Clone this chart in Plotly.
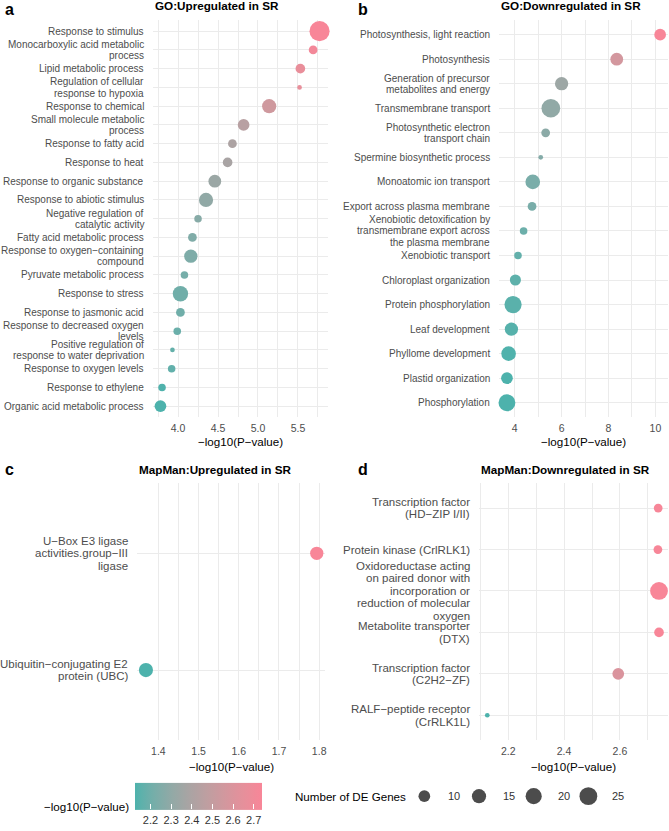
import numpy as np
import plotly.graph_objects as go

W, H = 669, 831
FONT = "Liberation Sans, Arial, sans-serif"

# ---------------- data ----------------
go_up_terms = [
    "Response to stimulus",
    "Monocarboxylic acid metabolic<br>process",
    "Lipid metabolic process",
    "Regulation of cellular<br>response to hypoxia",
    "Response to chemical",
    "Small molecule metabolic<br>process",
    "Response to fatty acid",
    "Response to heat",
    "Response to organic substance",
    "Response to abiotic stimulus",
    "Negative regulation of<br>catalytic activity",
    "Fatty acid metabolic process",
    "Response to oxygen\u2212containing<br>compound",
    "Pyruvate metabolic process",
    "Response to stress",
    "Response to jasmonic acid",
    "Response to decreased oxygen<br>levels",
    "Positive regulation of<br>response to water deprivation",
    "Response to oxygen levels",
    "Response to ethylene",
    "Organic acid metabolic process",
]
go_up_logp = [5.77, 5.69, 5.53, 5.52, 5.14, 4.82, 4.68, 4.62, 4.46, 4.35, 4.25,
              4.18, 4.16, 4.08, 4.03, 4.03, 3.99, 3.93, 3.92, 3.80, 3.78]
go_up_genes = [33, 6, 7, 4, 15, 10, 6, 7, 12, 15, 5, 6, 13, 5, 18, 6, 5, 4, 5, 5, 10]

go_down_terms = [
    "Photosynthesis, light reaction",
    "Photosynthesis",
    "Generation of precursor<br>metabolites and energy",
    "Transmembrane transport",
    "Photosynthetic electron<br>transport chain",
    "Spermine biosynthetic process",
    "Monoatomic ion transport",
    "Export across plasma membrane",
    "Xenobiotic detoxification by<br>transmembrane export across<br>the plasma membrane",
    "Xenobiotic transport",
    "Chloroplast organization",
    "Protein phosphorylation",
    "Leaf development",
    "Phyllome development",
    "Plastid organization",
    "Phosphorylation",
]
go_down_logp = [10.2, 8.35, 6.0, 5.54, 5.32, 5.11, 4.77, 4.74, 4.38, 4.14, 4.03,
                3.93, 3.86, 3.74, 3.67, 3.67]
go_down_genes = [10, 12, 13, 28, 6, 4, 16, 6, 5, 5, 9, 23, 13, 16, 10, 22]

mm_up_terms = [
    "U\u2212Box E3 ligase<br>activities.group\u2212III<br>ligase",
    "Ubiquitin\u2212conjugating E2<br>protein (UBC)",
]
mm_up_logp = [1.794, 1.369]
mm_up_genes = [13, 15]

mm_down_terms = [
    "Transcription factor<br>(HD\u2212ZIP I/II)",
    "Protein kinase (CrlRLK1)",
    "Oxidoreductase acting<br>on paired donor with<br>incorporation or<br>reduction of molecular<br>oxygen",
    "Metabolite transporter<br>(DTX)",
    "Transcription factor<br>(C2H2\u2212ZF)",
    "RALF\u2212peptide receptor<br>(CrRLK1L)",
]
mm_down_logp = [2.737, 2.736, 2.740, 2.740, 2.594, 2.125]
mm_down_genes = [6, 6, 25, 7, 10, 4]

size_breaks = [10, 15, 20, 25]
color_breaks = [2.2, 2.3, 2.4, 2.5, 2.6, 2.7]

# ---------------- styling helpers ----------------
def hex2rgb(h):
    h = h.lstrip("#")
    return [int(h[i:i + 2], 16) / 255 for i in (0, 2, 4)]

def srgb2lab(rgb):
    lin = [((c + 0.055) / 1.055) ** 2.4 if c > 0.04045 else c / 12.92 for c in rgb]
    r, g, b = lin
    X = (0.4124 * r + 0.3576 * g + 0.1805 * b) / 0.95047
    Y = (0.2126 * r + 0.7152 * g + 0.0722 * b)
    Z = (0.0193 * r + 0.1192 * g + 0.9505 * b) / 1.08883
    f = lambda t: t ** (1 / 3) if t > 0.008856 else 7.787 * t + 16 / 116
    fx, fy, fz = f(X), f(Y), f(Z)
    return [116 * fy - 16, 500 * (fx - fy), 200 * (fy - fz)]

def lab2srgb(lab):
    L, a, b = lab
    fy = (L + 16) / 116
    fx = fy + a / 500
    fz = fy - b / 200
    finv = lambda t: t ** 3 if t ** 3 > 0.008856 else (t - 16 / 116) / 7.787
    X, Y, Z = finv(fx) * 0.95047, finv(fy), finv(fz) * 1.08883
    r = 3.2406 * X - 1.5372 * Y - 0.4986 * Z
    g = -0.9689 * X + 1.8758 * Y + 0.0415 * Z
    bb = 0.0557 * X - 0.2040 * Y + 1.0570 * Z
    out = []
    for c in (r, g, bb):
        c = 1.055 * c ** (1 / 2.4) - 0.055 if c > 0.0031308 else 12.92 * c
        out.append(int(round(min(max(c, 0), 1) * 255)))
    return "rgb(%d,%d,%d)" % tuple(out)

LOW, HIGH = "#4DB2AC", "#F88698"
lab_lo, lab_hi = srgb2lab(hex2rgb(LOW)), srgb2lab(hex2rgb(HIGH))
colorscale = [[t, lab2srgb([lo + (hi - lo) * t for lo, hi in zip(lab_lo, lab_hi)])]
              for t in np.linspace(0, 1, 21)]

def dot_size(n):
    n = np.asarray(n, dtype=float)
    return 4.7 + 2.86 * np.sqrt(np.maximum(n - 4, 0))

def px(x):
    return x / W

def py(y):
    return 1 - y / H

GRID = "#EBEBEB"
TICKC = "#4D4D4D"

fig = go.Figure()
ann = []

def A(text, x, y, size, xanchor="left", bold=False, color="black", xref="paper",
      yref="paper", yshift=0):
    ann.append(dict(text="<b>%s</b>" % text if bold else text, x=x, y=y, xref=xref, yref=yref,
                    xanchor=xanchor, yanchor="middle", showarrow=False, yshift=yshift,
                    font=dict(size=size, color=color, family=FONT)))

panels = [
    # terms, logp, genes, xaxis, yaxis, xdom(px), ydom(px), dtick, tick0, minor, fmt, yfont, line h
    (go_up_terms, go_up_logp, go_up_genes, "x", "y", (152.5, 327.5), (20, 419.5), 0.5, 4.0, 0.25, ".1f", 10, 11.3),
    (go_down_terms, go_down_logp, go_down_genes, "x2", "y2", (499.3, 667.8), (20, 419.5), 2, 4, 1, "d", 10, 11.3),
    (mm_up_terms, mm_up_logp, mm_up_genes, "x3", "y3", (137.4, 325.3), (485.6, 743.7), 0.1, 1.4, 0.05, ".1f", 11.5, 12.5),
    (mm_down_terms, mm_down_logp, mm_down_genes, "x4", "y4", (478.7, 667.6), (485.6, 743.7), 0.2, 2.2, 0.1, ".1f", 11.5, 12.5),
]

layout_axes = {}
for i, (terms, logp, genes, xa, ya, xd, yd, dt, t0, mdt, fmt, yfs, lh) in enumerate(panels):
    lo, hi = min(logp), max(logp)
    pad = (hi - lo) * 0.05
    last = (i == 3)
    marker = dict(size=dot_size(genes), sizemode="diameter", color=logp,
                  colorscale=colorscale, cmin=lo, cmax=hi, opacity=1,
                  line=dict(width=0), showscale=last)
    if last:
        marker["colorbar"] = dict(
            orientation="h", x=px(135), xanchor="left", y=py(811), yanchor="middle",
            len=127, lenmode="pixels", thickness=27, thicknessmode="pixels",
            xpad=0, ypad=0, outlinewidth=0, tickvals=color_breaks,
            ticks="inside", ticklen=5, tickcolor="white", tickwidth=1,
            tickfont=dict(size=11, color="#333333", family=FONT))
    fig.add_trace(go.Scatter(x=logp, y=terms, mode="markers", marker=marker,
                             xaxis=xa, yaxis=ya, showlegend=False, cliponaxis=False))
    xk = "xaxis" if xa == "x" else "xaxis" + xa[1:]
    yk = "yaxis" if ya == "y" else "yaxis" + ya[1:]
    layout_axes[xk] = dict(
        domain=[px(xd[0]), px(xd[1])], anchor=ya, range=[lo - pad, hi + pad],
        dtick=dt, tick0=t0, tickformat=fmt, showgrid=True, gridcolor=GRID, gridwidth=1.1,
        minor=dict(dtick=mdt, tick0=t0, showgrid=True, gridcolor=GRID, gridwidth=0.6),
        zeroline=False, showline=False, ticks="",
        tickfont=dict(size=10.5, color=TICKC, family=FONT), ticklabelstandoff=3)
    layout_axes[yk] = dict(
        domain=[py(yd[1]), py(yd[0])], anchor=xa, type="category",
        categoryorder="array", categoryarray=terms,
        range=[len(terms) - 1 + 0.6, -0.6], showgrid=True, gridcolor=GRID, gridwidth=1.1,
        zeroline=False, showline=False, ticks="", showticklabels=False)
    # right-aligned category labels with compact line spacing
    for t in terms:
        lines = t.split("<br>")
        m = len(lines)
        for k, line in enumerate(lines):
            A(line, px(xd[0] - 7), t, yfs, xanchor="right", color=TICKC,
              yref=ya, yshift=((m - 1) / 2 - k) * lh)

# size legend keys
fig.add_trace(go.Scatter(
    x=list(range(len(size_breaks))), y=[0] * len(size_breaks), mode="markers",
    marker=dict(size=dot_size(size_breaks), sizemode="diameter", color="black", line=dict(width=0)),
    xaxis="x5", yaxis="y5", showlegend=False, cliponaxis=False, hoverinfo="skip"))
layout_axes["xaxis5"] = dict(domain=[px(397), 1.0], range=[-0.5, 4.475], visible=False, anchor="y5")
layout_axes["yaxis5"] = dict(domain=[py(812), py(788)], range=[-1, 1], visible=False, anchor="x5")

# panel letters
A("a", px(3), py(10), 16, bold=True)
A("b", px(356), py(10), 16, bold=True)
A("c", px(3), py(472), 16, bold=True)
A("d", px(356), py(472), 16, bold=True)
# panel titles
A("GO:Upregulated in SR", px(152.5), py(6), 11.7, bold=True)
A("GO:Downregulated in SR", px(499.3), py(6), 11.7, bold=True)
A("MapMan:Upregulated in SR", px(137.4), py(471.5), 11.7, bold=True)
A("MapMan:Downregulated in SR", px(478.7), py(471.5), 11.7, bold=True)
# axis titles
xt = "\u2212log10(P\u2212value)"
A(xt, px(240), py(444), 11.6, xanchor="center")
A(xt, px(583.5), py(444), 11.6, xanchor="center")
A(xt, px(231.3), py(770.5), 11.6, xanchor="center")
A(xt, px(573.2), py(770.5), 11.6, xanchor="center")
# legend titles
A(xt, px(131), py(810), 11.6, xanchor="right")
A("Number of DE Genes", px(293), py(800), 11.6)
for i, b in enumerate(size_breaks):
    A(str(b), i + 0.4, 0, 11, xref="x5", yref="y5", color="#333333")

fig.update_layout(
    width=W, height=H, margin=dict(l=0, r=0, t=0, b=0),
    paper_bgcolor="white", plot_bgcolor="white",
    font=dict(family=FONT), annotations=ann, showlegend=False, **layout_axes)

fig.write_html("out.html", config={"displayModeBar": False},
               post_script="document.body.style.margin='0';document.body.style.overflow='hidden';")
